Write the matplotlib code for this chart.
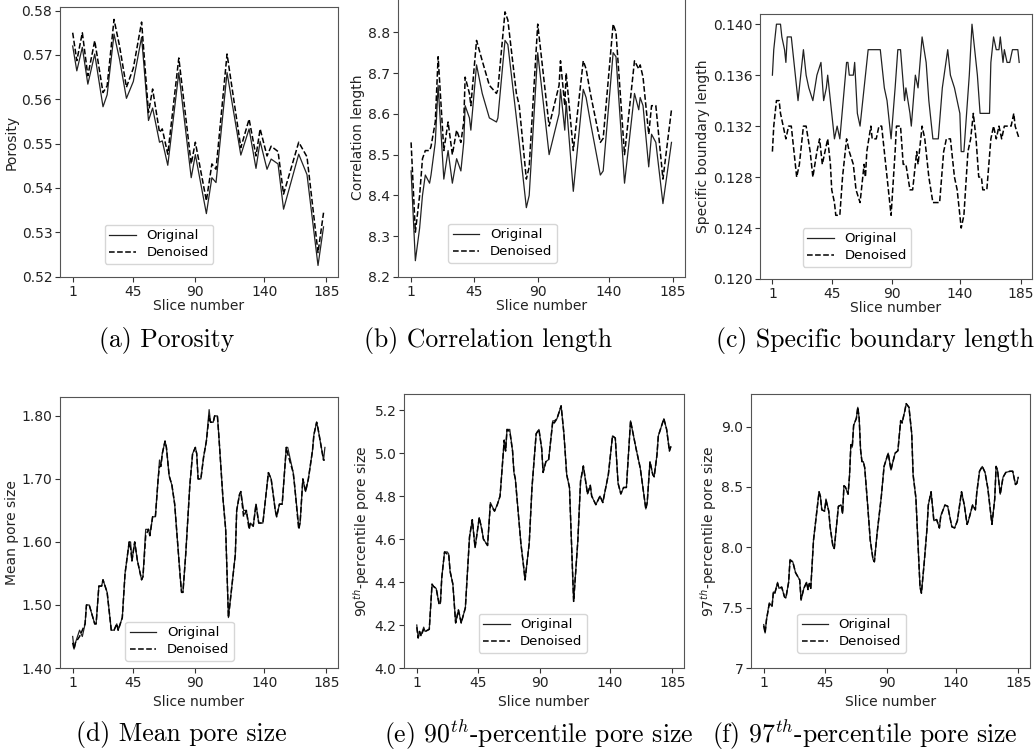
import matplotlib
matplotlib.use('Agg')
import matplotlib.pyplot as plt
from matplotlib.ticker import FixedLocator, FixedFormatter, FormatStrFormatter

W, H = 1035, 751

# ---------------- data ----------------
xticks = [1, 45, 90, 140, 185]

# (a) Porosity
por_x = [1, 4, 8, 12, 17, 23, 26, 31, 35, 40, 45, 51, 56, 59, 64, 66, 70, 78, 87, 90,
         98, 102, 105, 113, 123, 129, 134, 137, 142, 145, 150, 154, 165, 171, 179, 183]
por_orig = [0.572, 0.5664, 0.5717, 0.5634, 0.5702, 0.5583, 0.561, 0.5747, 0.569, 0.5602,
            0.564, 0.574, 0.5552, 0.558, 0.5503, 0.5506, 0.5451, 0.566, 0.5423, 0.5475,
            0.5342, 0.5423, 0.5412, 0.566, 0.5474, 0.5533, 0.5444, 0.5505, 0.5442, 0.5465,
            0.5454, 0.5352, 0.5476, 0.543, 0.5225, 0.5312]
por_den = [0.575, 0.5687, 0.575, 0.5653, 0.5732, 0.5615, 0.563, 0.578, 0.572, 0.5627,
           0.567, 0.5774, 0.557, 0.5623, 0.5525, 0.5533, 0.5476, 0.5693, 0.5454, 0.5503,
           0.5371, 0.5454, 0.5442, 0.5702, 0.5491, 0.5555, 0.5472, 0.5533, 0.5472, 0.5494,
           0.5482, 0.5386, 0.5503, 0.547, 0.5254, 0.5344]

# (b) Correlation length
cor_x = [1, 4, 7, 9, 11, 14, 15, 18, 20, 24, 27, 30, 33, 36, 38, 39, 42, 43, 47, 51,
         56, 61, 62, 67, 69, 75, 77, 82, 84, 90, 98, 105, 106, 109, 110, 115, 122, 124,
         127, 134, 136, 143, 145, 151, 158, 161, 162, 164, 168, 170, 173, 178, 184]
cor_orig = [8.46, 8.24, 8.32, 8.40, 8.45, 8.43, 8.45, 8.53, 8.67, 8.44, 8.51, 8.43, 8.49,
            8.46, 8.53, 8.62, 8.59, 8.56, 8.72, 8.65, 8.59, 8.58, 8.59, 8.78, 8.77, 8.59,
            8.53, 8.37, 8.40, 8.75, 8.50, 8.60, 8.66, 8.56, 8.63, 8.41, 8.66, 8.64, 8.58,
            8.45, 8.46, 8.75, 8.74, 8.43, 8.65, 8.61, 8.64, 8.62, 8.47, 8.55, 8.53, 8.38,
            8.53]
cor_den = [8.53, 8.31, 8.40, 8.49, 8.51, 8.51, 8.52, 8.58, 8.74, 8.51, 8.58, 8.50, 8.56,
           8.53, 8.58, 8.69, 8.65, 8.62, 8.78, 8.73, 8.67, 8.65, 8.66, 8.85, 8.83, 8.65,
           8.62, 8.44, 8.47, 8.82, 8.57, 8.67, 8.73, 8.62, 8.70, 8.51, 8.73, 8.71, 8.65,
           8.53, 8.54, 8.82, 8.80, 8.50, 8.73, 8.71, 8.72, 8.69, 8.55, 8.62, 8.62, 8.44,
           8.61]

# (c) Specific boundary length
sbl_x_orig = [1, 2, 4, 7, 8, 10, 11, 12, 15, 16, 19, 20, 22, 24, 26, 28, 31, 34, 37, 39,
              41, 42, 45, 47, 49, 51, 56, 57, 58, 61, 62, 64, 66, 67, 72, 81, 84, 86, 89,
              92, 94, 96, 99, 100, 103, 104, 107, 109, 112, 115, 117, 120, 124, 127, 131,
              133, 136, 140, 141, 143, 145, 147, 149, 153, 155, 162, 163, 165, 167, 169,
              170, 172, 173, 175, 177, 179, 183, 184]
sbl_orig = [0.136, 0.138, 0.140, 0.140, 0.139, 0.138, 0.137, 0.139, 0.139, 0.138, 0.135,
            0.134, 0.136, 0.138, 0.136, 0.135, 0.134, 0.136, 0.137, 0.134, 0.135, 0.136,
            0.133, 0.131, 0.132, 0.131, 0.137, 0.137, 0.136, 0.136, 0.137, 0.133, 0.132,
            0.133, 0.138, 0.138, 0.135, 0.134, 0.131, 0.135, 0.138, 0.138, 0.134, 0.135,
            0.133, 0.132, 0.136, 0.135, 0.139, 0.137, 0.134, 0.131, 0.131, 0.135, 0.138,
            0.136, 0.135, 0.133, 0.130, 0.130, 0.133, 0.136, 0.140, 0.136, 0.133, 0.133,
            0.137, 0.139, 0.138, 0.138, 0.139, 0.137, 0.138, 0.137, 0.137, 0.138, 0.138,
            0.137]
sbl_x_den = [1, 2, 4, 6, 7, 9, 11, 13, 15, 16, 19, 21, 24, 26, 29, 31, 34, 36, 38, 40,
             42, 44, 45, 47, 48, 51, 53, 56, 58, 61, 63, 66, 69, 70, 71, 74, 75, 78, 80,
             82, 84, 86, 89, 92, 93, 96, 98, 100, 103, 105, 108, 109, 112, 114, 117, 120,
             125, 128, 130, 133, 136, 138, 141, 143, 146, 148, 150, 152, 154, 156, 157,
             160, 163, 165, 167, 169, 171, 173, 178, 180, 181, 184]
sbl_den = [0.130, 0.132, 0.134, 0.134, 0.133, 0.132, 0.131, 0.132, 0.132, 0.131, 0.128,
           0.129, 0.132, 0.132, 0.130, 0.128, 0.130, 0.131, 0.129, 0.130, 0.131, 0.129,
           0.127, 0.126, 0.125, 0.125, 0.128, 0.131, 0.130, 0.129, 0.127, 0.126, 0.129,
           0.128, 0.130, 0.132, 0.131, 0.131, 0.132, 0.132, 0.130, 0.128, 0.125, 0.130,
           0.132, 0.132, 0.129, 0.129, 0.127, 0.127, 0.130, 0.129, 0.132, 0.131, 0.128,
           0.126, 0.126, 0.130, 0.131, 0.131, 0.128, 0.127, 0.124, 0.125, 0.130, 0.131,
           0.133, 0.131, 0.128, 0.128, 0.127, 0.127, 0.131, 0.132, 0.131, 0.132, 0.131,
           0.132, 0.132, 0.133, 0.132, 0.131]

# (d) Mean pore size
mps_x = [1, 2, 3, 6, 8, 10, 11, 13, 17, 18, 20, 22, 23, 26, 29, 31, 33, 34, 37, 39, 42,
         43, 44, 46, 48, 51, 52, 54, 56, 57, 59, 61, 63, 64, 65, 66, 68, 69, 71, 73, 75,
         79, 80, 81, 82, 83, 86, 88, 90, 91, 92, 94, 96, 98, 100, 101, 103, 104, 106, 107,
         110, 112, 114, 116, 119, 120, 122, 123, 125, 127, 129, 130, 132, 134, 136, 139,
         143, 145, 148, 149, 151, 153, 156, 157, 161, 162, 165, 166, 168, 170, 172, 175,
         176, 178, 179, 183, 184]
mps_orig = [1.45, 1.43, 1.44, 1.46, 1.45, 1.47, 1.50, 1.50, 1.47, 1.47, 1.53, 1.53, 1.54,
            1.52, 1.46, 1.46, 1.47, 1.46, 1.48, 1.55, 1.60, 1.60, 1.57, 1.60, 1.57, 1.54,
            1.545, 1.62, 1.62, 1.61, 1.64, 1.64, 1.70, 1.73, 1.72, 1.74, 1.76, 1.75, 1.705,
            1.69, 1.66, 1.545, 1.52, 1.52, 1.55, 1.58, 1.69, 1.74, 1.75, 1.74, 1.70, 1.70,
            1.735, 1.76, 1.81, 1.79, 1.79, 1.80, 1.80, 1.77, 1.67, 1.62, 1.48, 1.52, 1.58,
            1.65, 1.675, 1.68, 1.65, 1.65, 1.625, 1.63, 1.625, 1.66, 1.63, 1.63, 1.71, 1.70,
            1.65, 1.64, 1.66, 1.66, 1.75, 1.75, 1.71, 1.69, 1.625, 1.63, 1.70, 1.68, 1.70,
            1.745, 1.77, 1.79, 1.78, 1.73, 1.75]
mps_den = [1.44, 1.43, 1.44, 1.45, 1.46, 1.47, 1.50, 1.50, 1.47, 1.47, 1.53, 1.53, 1.54,
           1.52, 1.46, 1.46, 1.47, 1.46, 1.48, 1.55, 1.60, 1.59, 1.57, 1.60, 1.57, 1.54,
           1.545, 1.61, 1.62, 1.61, 1.64, 1.64, 1.70, 1.72, 1.72, 1.74, 1.76, 1.75, 1.705,
           1.69, 1.66, 1.545, 1.52, 1.52, 1.55, 1.58, 1.69, 1.74, 1.75, 1.74, 1.70, 1.70,
           1.735, 1.76, 1.80, 1.79, 1.79, 1.80, 1.80, 1.77, 1.67, 1.62, 1.48, 1.52, 1.58,
           1.65, 1.675, 1.68, 1.64, 1.65, 1.62, 1.63, 1.625, 1.66, 1.63, 1.63, 1.71, 1.70,
           1.65, 1.64, 1.66, 1.66, 1.75, 1.74, 1.71, 1.69, 1.62, 1.63, 1.70, 1.68, 1.70,
           1.745, 1.77, 1.79, 1.78, 1.73, 1.73]

# (e) 90th-percentile pore size
p90_x = [1, 2, 3, 4, 6, 7, 10, 12, 13, 15, 17, 18, 19, 21, 23, 24, 25, 27, 29, 31, 33,
         36, 39, 41, 43, 46, 48, 49, 52, 54, 57, 59, 61, 64, 65, 66, 68, 70, 71, 72, 76,
         78, 79, 82, 84, 87, 89, 91, 92, 94, 96, 99, 100, 102, 104, 105, 107, 109, 111,
         114, 117, 119, 121, 124, 126, 127, 130, 133, 135, 139, 142, 144, 146, 148, 150,
         152, 155, 159, 162, 166, 167, 169, 171, 172, 174, 175, 179, 181, 183, 184]
p90_orig = [4.20, 4.14, 4.17, 4.15, 4.19, 4.17, 4.18, 4.39, 4.38, 4.37, 4.30, 4.30, 4.42,
            4.54, 4.54, 4.53, 4.45, 4.39, 4.21, 4.27, 4.21, 4.28, 4.61, 4.69, 4.56, 4.70,
            4.64, 4.60, 4.57, 4.77, 4.73, 4.76, 4.80, 5.06, 5.01, 5.11, 5.11, 5.01, 4.91,
            4.88, 4.58, 4.47, 4.41, 4.58, 4.84, 5.09, 5.11, 5.02, 4.91, 4.96, 4.97, 5.15,
            5.15, 5.16, 5.20, 5.22, 5.09, 4.90, 4.84, 4.31, 4.59, 4.87, 4.94, 4.81, 4.85,
            4.80, 4.76, 4.80, 4.77, 4.90, 5.08, 5.07, 4.86, 4.81, 4.84, 4.84, 5.15, 5.02,
            4.93, 4.74, 4.77, 4.96, 4.90, 4.89, 4.99, 5.08, 5.16, 5.11, 5.01, 5.03]
p90_den = [4.19, 4.14, 4.17, 4.15, 4.18, 4.17, 4.18, 4.39, 4.38, 4.37, 4.30, 4.30, 4.42,
           4.54, 4.53, 4.53, 4.45, 4.39, 4.21, 4.27, 4.21, 4.28, 4.61, 4.69, 4.56, 4.70,
           4.64, 4.60, 4.57, 4.76, 4.73, 4.76, 4.80, 5.06, 5.01, 5.11, 5.10, 5.01, 4.91,
           4.88, 4.58, 4.47, 4.41, 4.58, 4.84, 5.09, 5.11, 5.02, 4.91, 4.96, 4.97, 5.15,
           5.14, 5.16, 5.20, 5.22, 5.09, 4.90, 4.84, 4.31, 4.59, 4.87, 4.94, 4.81, 4.85,
           4.80, 4.76, 4.80, 4.77, 4.90, 5.08, 5.07, 4.86, 4.81, 4.84, 4.84, 5.15, 5.02,
           4.93, 4.74, 4.77, 4.96, 4.90, 4.89, 4.99, 5.08, 5.16, 5.11, 5.01, 5.03]

# (f) 97th-percentile pore size
p97_x = [1, 2, 3, 5, 7, 8, 9, 11, 12, 14, 16, 17, 19, 20, 22, 24, 25, 27, 28, 30, 32,
         33, 34, 35, 37, 41, 42, 43, 45, 46, 48, 49, 51, 52, 55, 57, 58, 59, 60, 62, 63,
         64, 65, 66, 68, 69, 70, 71, 72, 73, 74, 76, 78, 80, 81, 83, 86, 88, 91, 93, 94,
         96, 98, 100, 101, 103, 104, 106, 108, 109, 111, 114, 115, 117, 119, 120, 122,
         124, 126, 128, 129, 132, 134, 137, 139, 141, 144, 146, 147, 148, 149, 152, 154,
         155, 157, 159, 161, 163, 166, 168, 169, 170, 172, 174, 176, 179, 181, 183, 184,
         185]
p97_orig = [7.36, 7.29, 7.40, 7.54, 7.51, 7.63, 7.62, 7.71, 7.66, 7.67, 7.59, 7.58, 7.71,
            7.90, 7.88, 7.79, 7.77, 7.73, 7.56, 7.66, 7.71, 7.65, 7.70, 7.66, 8.06, 8.46,
            8.42, 8.31, 8.30, 8.40, 8.30, 8.17, 8.01, 7.99, 8.34, 8.35, 8.28, 8.51, 8.50,
            8.44, 8.59, 8.85, 8.83, 9.01, 9.07, 9.16, 9.07, 8.81, 8.71, 8.71, 8.66, 8.37,
            8.06, 7.90, 7.88, 8.12, 8.42, 8.67, 8.78, 8.64, 8.69, 8.78, 8.80, 9.05, 9.03,
            9.13, 9.19, 9.16, 8.94, 8.60, 8.41, 7.67, 7.62, 7.87, 8.15, 8.35, 8.46, 8.22,
            8.23, 8.16, 8.26, 8.35, 8.34, 8.17, 8.16, 8.22, 8.46, 8.35, 8.27, 8.19, 8.22,
            8.35, 8.31, 8.45, 8.63, 8.67, 8.62, 8.49, 8.19, 8.40, 8.67, 8.64, 8.44, 8.58,
            8.62, 8.63, 8.63, 8.52, 8.53, 8.58]
p97_den = [7.35, 7.29, 7.40, 7.53, 7.51, 7.63, 7.62, 7.70, 7.66, 7.67, 7.59, 7.58, 7.71,
           7.89, 7.88, 7.79, 7.77, 7.73, 7.57, 7.66, 7.71, 7.65, 7.70, 7.66, 8.06, 8.46,
           8.42, 8.31, 8.30, 8.39, 8.30, 8.17, 8.01, 7.99, 8.34, 8.35, 8.28, 8.51, 8.50,
           8.44, 8.59, 8.85, 8.83, 9.01, 9.07, 9.16, 9.07, 8.81, 8.71, 8.71, 8.66, 8.37,
           8.06, 7.90, 7.88, 8.12, 8.42, 8.67, 8.78, 8.64, 8.69, 8.78, 8.80, 9.05, 9.03,
           9.13, 9.19, 9.16, 8.94, 8.60, 8.41, 7.67, 7.62, 7.87, 8.15, 8.35, 8.46, 8.22,
           8.23, 8.16, 8.26, 8.35, 8.34, 8.17, 8.16, 8.22, 8.46, 8.35, 8.27, 8.19, 8.22,
           8.35, 8.31, 8.45, 8.63, 8.67, 8.62, 8.49, 8.19, 8.40, 8.67, 8.64, 8.44, 8.58,
           8.62, 8.63, 8.63, 8.52, 8.53, 8.58]

# ---------------- figure ----------------
fig = plt.figure(figsize=(W / 100, H / 100), dpi=100)


def px_axes(x0, y0, x1, y1):
    # pixel box (top-left origin) -> figure axes
    return fig.add_axes([x0 / W, (H - y1) / H, (x1 - x0) / W, (y1 - y0) / H])


panels = [
    dict(box=(60, 7, 338, 277), xo=por_x, yo=por_orig, xd=por_x, yd=por_den,
         ylim=(0.5199, 0.5808), yt=[0.52, 0.53, 0.54, 0.55, 0.56, 0.57, 0.58], fmt='%.2f',
         ylabel='Porosity', leg=(0.356, 0.048), xpad=0,
         cap='(a) Porosity', capx=167, capy=340),
    dict(box=(398, -2, 685, 277), xo=cor_x, yo=cor_orig, xd=cor_x, yd=cor_den,
         ylim=(8.2, 8.884), yt=[8.2, 8.3, 8.4, 8.5, 8.6, 8.7, 8.8], fmt='%.1f',
         ylabel='Correlation length', leg=(0.365, 0.05), xpad=0,
         cap='(b) Correlation length', capx=488, capy=340),
    dict(box=(760, 14, 1032, 279), xo=sbl_x_orig, yo=sbl_orig, xd=sbl_x_den, yd=sbl_den,
         ylim=(0.120, 0.1408), yt=[0.120, 0.124, 0.128, 0.132, 0.136, 0.140], fmt='%.3f',
         ylabel='Specific boundary length', leg=(0.357, 0.045), xpad=0,
         cap='(c) Specific boundary length', capx=875, capy=340),
    dict(box=(60, 397, 338, 668), xo=mps_x, yo=mps_orig, xd=mps_x, yd=mps_den,
         ylim=(1.40, 1.83), yt=[1.40, 1.50, 1.60, 1.70, 1.80], fmt='%.2f',
         ylabel='Mean pore size', leg=(0.43, 0.026), xpad=4,
         cap='(d) Mean pore size', capx=181, capy=735),
    dict(box=(404, 394, 684, 668), xo=p90_x, yo=p90_orig, xd=p90_x, yd=p90_den,
         ylim=(4.0, 5.275), yt=[4.0, 4.2, 4.4, 4.6, 4.8, 5.0, 5.2], fmt='%.1f',
         ylabel=r'90$^{th}$-percentile pore size', leg=(0.46, 0.055), xpad=4,
         cap=r'(e) $90^{th}$-percentile pore size', capx=539, capy=735),
    dict(box=(751, 394, 1030, 668), xo=p97_x, yo=p97_orig, xd=p97_x, yd=p97_den,
         ylim=(7.0, 9.27), yt=[7.0, 7.5, 8.0, 8.5, 9.0], fmt=['7', '7.5', '8.0', '8.5', '9.0'],
         ylabel=r'97$^{th}$-percentile pore size', leg=(0.36, 0.055), xpad=4,
         cap=r'(f) $97^{th}$-percentile pore size', capx=865, capy=735),
]

for p in panels:
    ax = px_axes(*p['box'])
    ax.plot(p['xo'], p['yo'], color='#222222', lw=0.9, label='Original')
    ax.plot(p['xd'], p['yd'], color='k', lw=1.1, ls='--', label='Denoised')
    ax.set_xlim(-8.2, 193.5)
    ax.set_ylim(*p['ylim'])
    ax.xaxis.set_major_locator(FixedLocator(xticks))
    ax.yaxis.set_major_locator(FixedLocator(p['yt']))
    if isinstance(p['fmt'], list):
        ax.yaxis.set_major_formatter(FixedFormatter(p['fmt']))
    else:
        ax.yaxis.set_major_formatter(FormatStrFormatter(p['fmt']))
    ax.tick_params(labelsize=10, length=3.5, width=0.8, color='#333333', labelcolor='#222222', pad=2)
    for s in ax.spines.values():
        s.set_color('#555555')
        s.set_linewidth(0.8)
    ax.set_xlabel('Slice number', fontsize=10, color='#222222', labelpad=p['xpad'])
    ax.set_ylabel(p['ylabel'], fontsize=10, color='#222222', labelpad=2)
    ax.legend(loc='lower center', bbox_to_anchor=p['leg'], fontsize=9.5, borderaxespad=0,
              handlelength=2.0, borderpad=0.35, labelspacing=0.3)
    fig.text(p['capx'] / W, 1 - p['capy'] / H, p['cap'], ha='center', va='center',
             fontsize=18.5, family='cmr10', math_fontfamily='cm')

fig.savefig('out.png', dpi=100)
